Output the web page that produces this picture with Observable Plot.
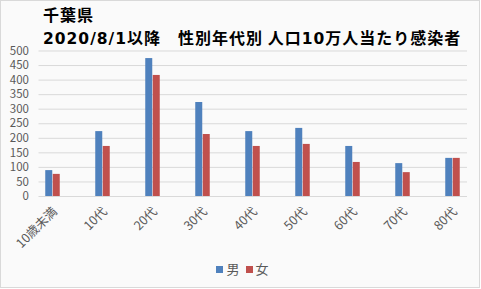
<!DOCTYPE html>
<html><head><meta charset="utf-8">
<script src="https://cdn.jsdelivr.net/npm/d3@7"></script>
<script src="https://cdn.jsdelivr.net/npm/@observablehq/plot@0.6"></script>
<style>
html,body{margin:0;padding:0;background:#fff;}
#wrap{position:relative;width:481px;height:289px;overflow:hidden;font-family:"Noto Sans CJK JP",sans-serif;}
#frame{position:absolute;left:0;top:0;width:480px;height:288px;box-sizing:border-box;border:1px solid #d9d9d9;background:#fafafa;}
#chart{position:absolute;left:0;top:0;}
.t{position:absolute;left:43px;font-weight:bold;font-size:16px;color:#000;white-space:nowrap;line-height:1;letter-spacing:1px;}
.t .n{font-family:"DejaVu Sans",sans-serif;font-size:15.5px;}
#legend{position:absolute;top:259px;left:2px;width:481px;text-align:center;font-size:13px;color:#595959;}
#legend span.sw{display:inline-block;width:7px;height:7px;margin-right:3px;vertical-align:1px;}
#legend span.it{margin:0 3px;}
</style></head>
<body>
<div id="wrap">
<div id="frame"></div>
<div id="chart"></div>
<div class="t" id="t1" style="top:6px">千葉県</div>
<div class="t" id="t2" style="top:29px"><span class="n">2020/8/1</span>以降　性別年代別 人口<span class="n">10</span>万人当たり感染者</div>
<div id="legend"></div>
</div>
<script>
const categories = ["10歳未満","10代","20代","30代","40代","50代","60代","70代","80代"];
const seriesNames = ["男","女"];
const maleValues = [89, 223, 474, 323, 223, 234, 172, 113, 131];
const femaleValues = [76, 172, 416, 213, 172, 179, 117, 82, 131];
const yTicks = [0,50,100,150,200,250,300,350,400,450,500];
const colors = ["#4F81BD","#C0504D"];

const data = [];
categories.forEach((c,i)=>{
  data.push({cat:c, sex:seriesNames[0], v:maleValues[i]});
  data.push({cat:c, sex:seriesNames[1], v:femaleValues[i]});
});

const bw = 7.5;
const p = 1 - bw/50.34;
const chart = Plot.plot({
  width:481, height:289,
  marginLeft:38.5, marginRight:14, marginTop:50.5, marginBottom:93,
  style:{background:"transparent", fontFamily:"'Noto Sans CJK JP', sans-serif"},
  x:{type:"band", domain:categories, range:[25.83,478.87], paddingInner:p, paddingOuter:p/2, label:null},
  y:{domain:[0,500], label:null},
  color:{domain:seriesNames, range:colors},
  marks:[
    Plot.gridY(yTicks,{stroke:"#d9d9d9", strokeOpacity:1, strokeWidth:1}),
    Plot.barY(data.filter(d=>d.sex===seriesNames[0]),{x:"cat", y:"v", fill:"sex", dx:-bw/2}),
    Plot.barY(data.filter(d=>d.sex===seriesNames[1]),{x:"cat", y:"v", fill:"sex", dx:bw/2}),
    Plot.axisY(yTicks,{tickSize:0, tickPadding:10, fontSize:11.5, fill:"#595959", label:null}),
    Plot.axisX({tickSize:0, tickRotate:-45, fontSize:12.5, fill:"#595959", label:null, tickPadding:13, dx:2})
  ]
});
document.getElementById("chart").appendChild(chart);

const lg = document.getElementById("legend");
seriesNames.forEach((s,i)=>{
  const it = document.createElement("span");
  it.className="it";
  it.innerHTML = `<span class="sw" style="background:${colors[i]}"></span>${s}`;
  lg.appendChild(it);
});
</script>
</body></html>
